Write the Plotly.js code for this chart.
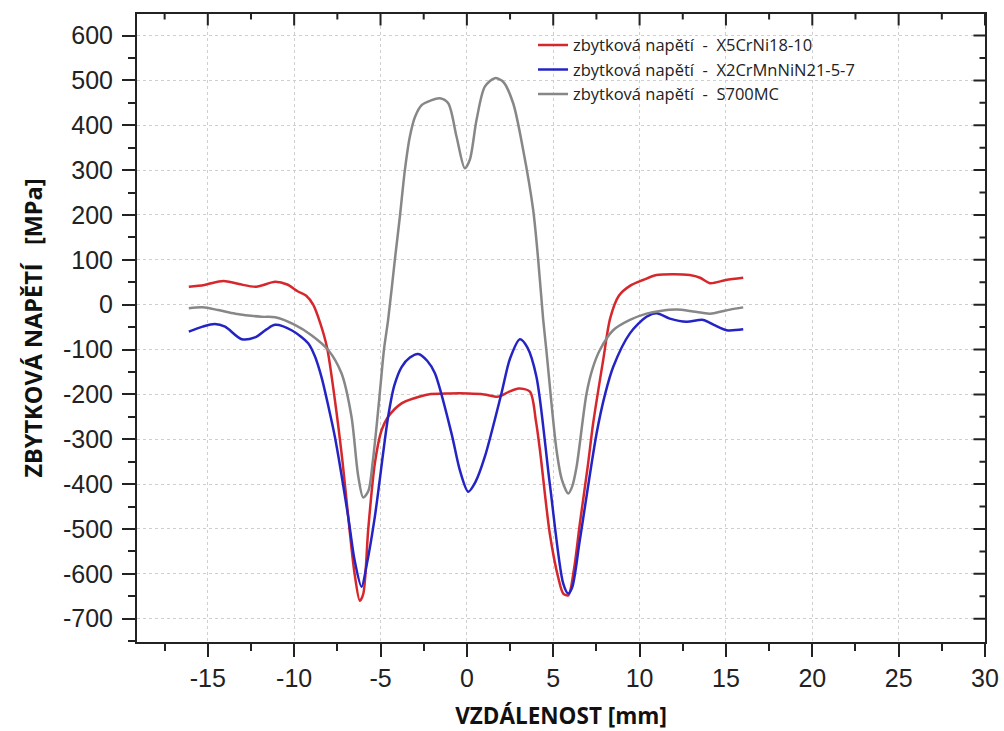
<!DOCTYPE html>
<html>
<head>
<meta charset="utf-8">
<script src="https://cdn.plot.ly/plotly-3.0.1.min.js"></script>
<style>html,body{margin:0;padding:0;background:#fff;}#chart{width:1004px;height:731px;}</style>
</head>
<body>
<div id="chart"></div>
<script>
// ---- data ----
const seriesNames = [
  "zbytková napětí\u00a0\u00a0-\u00a0\u00a0X5CrNi18-10",
  "zbytková napětí\u00a0\u00a0-\u00a0\u00a0X2CrMnNiN21-5-7",
  "zbytková napětí\u00a0\u00a0-\u00a0\u00a0S700MC"
];
const xRed = [-16.1,-15.2,-14.1,-13.2,-12.2,-11.1,-10.4,-9.8,-9.3,-8.9,-8.5,-8.1,-7.64,-7.2,-6.87,-6.5,-6.2,-6.0,-5.71,-5.33,-4.94,-4.56,-3.78,-3.0,-2.24,-1.0,0.08,1.0,1.81,2.4,3.0,3.65,4.0,4.23,4.8,5.3,5.58,5.87,6.2,6.54,7.0,7.31,7.89,8.3,8.8,9.44,10.2,10.98,12.0,12.9,13.5,14.07,15.0,16.0];
const yRed = [40,44,53,46,40,51,45,30,20,0,-40,-95,-213,-350,-473,-600,-660,-645,-500,-354,-280,-250,-220,-208,-200,-198,-198,-200,-205,-195,-187,-194,-260,-324,-510,-610,-644,-648,-590,-488,-360,-265,-124,-30,20,42,55,66,68,66,60,48,55,60];

const xBlue = [-16.1,-15.3,-14.6,-14.0,-13.04,-12.27,-11.6,-11.1,-10.15,-9.19,-8.8,-8.42,-8.0,-7.64,-6.87,-6.5,-6.1,-5.8,-5.33,-4.56,-4.2,-3.78,-3.3,-2.82,-2.3,-1.85,-0.89,-0.4,0.08,0.5,1.04,2.0,2.5,3.07,3.5,4.03,4.8,5.58,5.87,6.1,6.54,7.51,8.0,8.47,9.44,10.4,10.98,11.75,12.72,13.68,14.3,15.04,16.0];
const yBlue = [-60,-49,-43,-49,-77,-73,-55,-45,-57,-86,-115,-161,-230,-295,-473,-570,-629,-580,-473,-250,-180,-139,-118,-110,-125,-153,-287,-370,-417,-395,-339,-198,-120,-77,-95,-161,-399,-622,-644,-630,-525,-287,-200,-139,-64,-27,-19,-31,-38,-34,-45,-57,-55];

const xGray = [-16.1,-15.3,-14.4,-13.4,-11.9,-11.1,-9.96,-9.0,-8.03,-7.26,-6.68,-6.3,-6.0,-5.7,-5.45,-5.2,-5.0,-4.8,-4.56,-4.17,-3.88,-3.59,-3.3,-3.0,-2.62,-2.1,-1.56,-1.08,-0.6,-0.12,0.17,0.56,1.04,1.62,2.1,2.68,3.26,3.84,4.13,4.42,4.6,5.19,5.5,5.87,6.1,6.35,6.93,7.3,7.7,8.47,9.44,10.4,11.2,12.14,13.1,14.07,15.23,16.0];
const yGray = [-8,-6,-12,-20,-27,-28,-45,-68,-101,-153,-250,-380,-430,-415,-350,-260,-180,-100,-34,100,196,300,375,419,445,455,460,449,375,304,323,412,486,505,497,449,345,211,100,-34,-101,-324,-390,-421,-405,-362,-198,-140,-101,-57,-34,-20,-14,-11,-15,-20,-11,-6];

const xTickVals = [-15,-10,-5,0,5,10,15,20,25,30];
const xTickText = ["-15","-10","-5","0","5","10","15","20","25","30"];
const xMinorVals = [-17.5,-12.5,-7.5,-2.5,2.5,7.5,12.5,17.5,22.5,27.5];
const yTickVals = [-700,-600,-500,-400,-300,-200,-100,0,100,200,300,400,500,600];
const yTickText = ["-700","-600","-500","-400","-300","-200","-100","0","100","200","300","400","500","600"];
const yMinorVals = [-650,-550,-450,-350,-250,-150,-50,50,150,250,350,450,550];
const xTitle = "VZDÁLENOST [mm]";
const yTitle = "ZBYTKOVÁ NAPĚTÍ\u00a0\u00a0\u00a0[MPa]";

const colors = ["rgb(214,40,44)","rgb(36,36,196)","rgb(135,135,135)"];

const traces = [
  {x:xRed, y:yRed, name:seriesNames[0], mode:"lines", line:{color:colors[0], width:2.5, shape:"spline", smoothing:0.8}},
  {x:xBlue, y:yBlue, name:seriesNames[1], mode:"lines", line:{color:colors[1], width:2.5, shape:"spline", smoothing:0.8}},
  {x:xGray, y:yGray, name:seriesNames[2], mode:"lines", line:{color:colors[2], width:2.5, shape:"spline", smoothing:0.8}}
];

// inward-pointing ticks on the top and right frame edges, drawn as head-less annotation arrows
const annotations = [];
function topTick(v, len){ annotations.push({x:v, xref:"x", y:1, yref:"paper", text:"", showarrow:true, arrowhead:0, arrowwidth:2, arrowcolor:"#222", ax:0, ay:len, axref:"pixel", ayref:"pixel", standoff:0, startstandoff:0}); }
function rightTick(v, len){ annotations.push({x:1, xref:"paper", y:v, yref:"y", text:"", showarrow:true, arrowhead:0, arrowwidth:2, arrowcolor:"#222", ax:-len, ay:0, axref:"pixel", ayref:"pixel", standoff:0, startstandoff:0}); }
xTickVals.forEach(v => topTick(v, 13));
xMinorVals.forEach(v => topTick(v, 7));
yTickVals.forEach(v => rightTick(v, 13));
yMinorVals.forEach(v => rightTick(v, 7));

const xRange = [-19.1, 30];
const yRange = [-752, 648];
const tickFont = {family:"Liberation Sans, Arial, sans-serif", size:25, color:"#222"};

const layout = {
  width:1004, height:731,
  margin:{l:137, r:19, t:14, b:89},
  paper_bgcolor:"#fff", plot_bgcolor:"#fff",
  showlegend:true,
  annotations:annotations,
  legend:{x:0.467, y:0.978, xanchor:"left", yanchor:"top", bgcolor:"rgba(0,0,0,0)", borderwidth:0,
          font:{family:"Open Sans, sans-serif", size:16.5, color:"#222"}, tracegroupgap:0},
  xaxis:{range:xRange, tickmode:"array", tickvals:xTickVals, ticktext:xTickText,
         ticks:"outside", ticklen:13, tickwidth:2, tickcolor:"#222",
         minor:{dtick:2.5, tick0:0, ticks:"outside", ticklen:7, tickwidth:2, tickcolor:"#222", showgrid:false},
         showline:true, linewidth:2, linecolor:"#222", mirror:true,
         showgrid:true, gridcolor:"#cfcfcf", griddash:"dot", gridwidth:1, zeroline:false,
         tickfont:tickFont, ticklabelstandoff:0,
         title:{text:xTitle, font:{family:"Open Sans, sans-serif", size:22.5, weight:"bold", color:"#111"}, standoff:20}},
  yaxis:{range:yRange, tickmode:"array", tickvals:yTickVals, ticktext:yTickText,
         ticks:"outside", ticklen:13, tickwidth:2, tickcolor:"#222",
         minor:{dtick:50, tick0:0, ticks:"outside", ticklen:7, tickwidth:2, tickcolor:"#222", showgrid:false},
         showline:true, linewidth:2, linecolor:"#222", mirror:true,
         showgrid:true, gridcolor:"#cfcfcf", griddash:"dot", gridwidth:1, zeroline:false,
         tickfont:tickFont, ticklabelstandoff:4,
         title:{text:yTitle, font:{family:"Open Sans, sans-serif", size:23.5, weight:"bold", color:"#111"}, standoff:14}}
};

Plotly.newPlot("chart", traces, layout, {staticPlot:true, displayModeBar:false});
</script>
</body>
</html>
